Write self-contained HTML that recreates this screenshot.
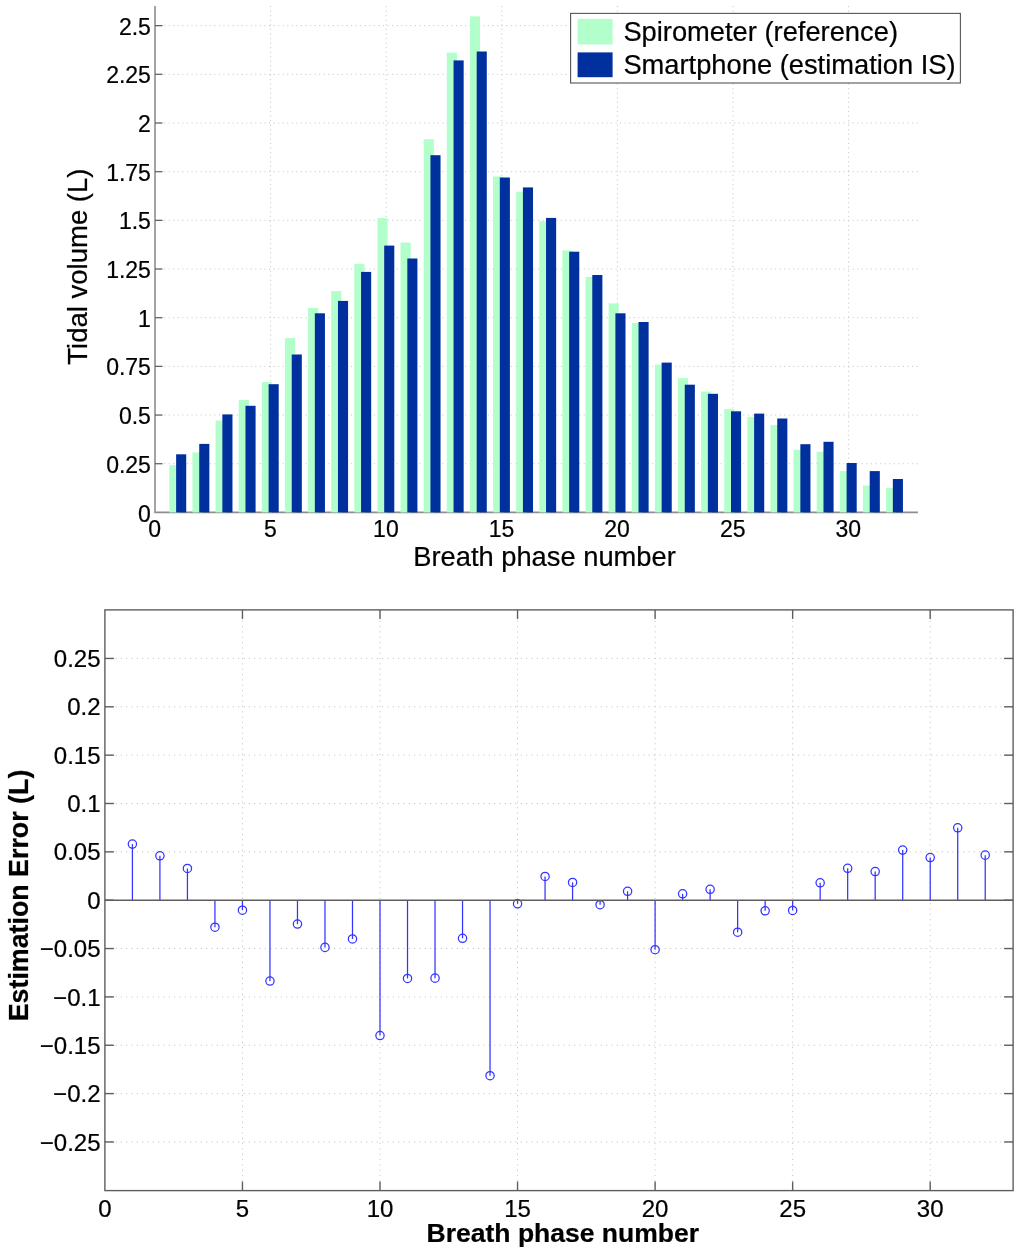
<!DOCTYPE html>
<html lang="en">
<head>
<meta charset="utf-8">
<title>Tidal volume estimation</title>
<style>
html,body{margin:0;padding:0;background:#fff;}
body{width:1024px;height:1255px;overflow:hidden;}
svg text{white-space:pre;stroke:#000;stroke-width:0.22px;}
</style>
</head>
<body>
<svg width="1024" height="1255" viewBox="0 0 1024 1255" style="display:block">
<rect width="1024" height="1255" fill="#fff"/>
<g id="top">
<g stroke="#c8c8c8" stroke-width="1" stroke-dasharray="1.1 3.46" fill="none">
<line x1="155" y1="463.72" x2="917.96" y2="463.72"/>
<line x1="155" y1="415.05" x2="917.96" y2="415.05"/>
<line x1="155" y1="366.38" x2="917.96" y2="366.38"/>
<line x1="155" y1="317.7" x2="917.96" y2="317.7"/>
<line x1="155" y1="269.02" x2="917.96" y2="269.02"/>
<line x1="155" y1="220.35" x2="917.96" y2="220.35"/>
<line x1="155" y1="171.68" x2="917.96" y2="171.68"/>
<line x1="155" y1="123" x2="917.96" y2="123"/>
<line x1="155" y1="74.32" x2="917.96" y2="74.32"/>
<line x1="155" y1="25.65" x2="917.96" y2="25.65"/>
<line x1="270.6" y1="6.1" x2="270.6" y2="512.4"/>
<line x1="386.2" y1="6.1" x2="386.2" y2="512.4"/>
<line x1="501.8" y1="6.1" x2="501.8" y2="512.4"/>
<line x1="617.4" y1="6.1" x2="617.4" y2="512.4"/>
<line x1="733" y1="6.1" x2="733" y2="512.4"/>
<line x1="848.6" y1="6.1" x2="848.6" y2="512.4"/>
</g>
<g stroke="#8e8e8e" stroke-width="1.6" fill="none">
<path d="M155 6.1 V512.4 H917.96"/>
</g>
<g stroke="#606060" stroke-width="1.25" fill="none">
<line x1="155" y1="463.72" x2="162.5" y2="463.72"/>
<line x1="155" y1="415.05" x2="162.5" y2="415.05"/>
<line x1="155" y1="366.38" x2="162.5" y2="366.38"/>
<line x1="155" y1="317.7" x2="162.5" y2="317.7"/>
<line x1="155" y1="269.02" x2="162.5" y2="269.02"/>
<line x1="155" y1="220.35" x2="162.5" y2="220.35"/>
<line x1="155" y1="171.68" x2="162.5" y2="171.68"/>
<line x1="155" y1="123" x2="162.5" y2="123"/>
<line x1="155" y1="74.32" x2="162.5" y2="74.32"/>
<line x1="155" y1="25.65" x2="162.5" y2="25.65"/>
</g>
<g fill="#b3ffcc">
<rect x="169.32" y="465.2" width="10.2" height="47.2"/>
<rect x="192.44" y="452.5" width="10.2" height="59.9"/>
<rect x="215.56" y="420.5" width="10.2" height="91.9"/>
<rect x="238.68" y="399.9" width="10.2" height="112.5"/>
<rect x="261.8" y="382.1" width="10.2" height="130.3"/>
<rect x="284.92" y="338" width="10.2" height="174.4"/>
<rect x="308.04" y="308" width="10.2" height="204.4"/>
<rect x="331.16" y="291" width="10.2" height="221.4"/>
<rect x="354.28" y="263.8" width="10.2" height="248.6"/>
<rect x="377.4" y="218.1" width="10.2" height="294.3"/>
<rect x="400.52" y="242.5" width="10.2" height="269.9"/>
<rect x="423.64" y="139.2" width="10.2" height="373.2"/>
<rect x="446.76" y="52.6" width="10.2" height="459.8"/>
<rect x="469.88" y="16.3" width="10.2" height="496.1"/>
<rect x="493" y="176.5" width="10.2" height="335.9"/>
<rect x="516.12" y="191.7" width="10.2" height="320.7"/>
<rect x="539.24" y="221.2" width="10.2" height="291.2"/>
<rect x="562.36" y="250.4" width="10.2" height="262"/>
<rect x="585.48" y="277" width="10.2" height="235.4"/>
<rect x="608.6" y="303.4" width="10.2" height="209"/>
<rect x="631.72" y="323" width="10.2" height="189.4"/>
<rect x="654.84" y="364.6" width="10.2" height="147.8"/>
<rect x="677.96" y="378.1" width="10.2" height="134.3"/>
<rect x="701.08" y="391.5" width="10.2" height="120.9"/>
<rect x="724.2" y="409.1" width="10.2" height="103.3"/>
<rect x="747.32" y="416.9" width="10.2" height="95.5"/>
<rect x="770.44" y="425" width="10.2" height="87.4"/>
<rect x="793.56" y="449.8" width="10.2" height="62.6"/>
<rect x="816.68" y="451.8" width="10.2" height="60.6"/>
<rect x="839.8" y="471.1" width="10.2" height="41.3"/>
<rect x="862.92" y="485.5" width="10.2" height="26.9"/>
<rect x="886.04" y="488" width="10.2" height="24.4"/>
</g>
<g fill="#00309e">
<rect x="176.12" y="454.3" width="10.1" height="58.1"/>
<rect x="199.24" y="443.9" width="10.1" height="68.5"/>
<rect x="222.36" y="414.4" width="10.1" height="98"/>
<rect x="245.48" y="405.8" width="10.1" height="106.6"/>
<rect x="268.6" y="384.2" width="10.1" height="128.2"/>
<rect x="291.72" y="354.5" width="10.1" height="157.9"/>
<rect x="314.84" y="313.3" width="10.1" height="199.1"/>
<rect x="337.96" y="300.9" width="10.1" height="211.5"/>
<rect x="361.08" y="271.9" width="10.1" height="240.5"/>
<rect x="384.2" y="245.6" width="10.1" height="266.8"/>
<rect x="407.32" y="258.5" width="10.1" height="253.9"/>
<rect x="430.44" y="155.2" width="10.1" height="357.2"/>
<rect x="453.56" y="60.4" width="10.1" height="452"/>
<rect x="476.68" y="51.5" width="10.1" height="460.9"/>
<rect x="499.8" y="177.5" width="10.1" height="334.9"/>
<rect x="522.92" y="187.4" width="10.1" height="325"/>
<rect x="546.04" y="217.9" width="10.1" height="294.5"/>
<rect x="569.16" y="251.7" width="10.1" height="260.7"/>
<rect x="592.28" y="275" width="10.1" height="237.4"/>
<rect x="615.4" y="313.3" width="10.1" height="199.1"/>
<rect x="638.52" y="322" width="10.1" height="190.4"/>
<rect x="661.64" y="362.6" width="10.1" height="149.8"/>
<rect x="684.76" y="384.7" width="10.1" height="127.7"/>
<rect x="707.88" y="393.8" width="10.1" height="118.6"/>
<rect x="731" y="411.3" width="10.1" height="101.1"/>
<rect x="754.12" y="413.6" width="10.1" height="98.8"/>
<rect x="777.24" y="418.5" width="10.1" height="93.9"/>
<rect x="800.36" y="444.2" width="10.1" height="68.2"/>
<rect x="823.48" y="441.8" width="10.1" height="70.6"/>
<rect x="846.6" y="463" width="10.1" height="49.4"/>
<rect x="869.72" y="471.1" width="10.1" height="41.3"/>
<rect x="892.84" y="479" width="10.1" height="33.4"/>
</g>
<g font-family='"Liberation Sans", Arial, Helvetica, sans-serif' font-size="23" fill="#000">
<text x="150.9" y="521.5" text-anchor="end">0</text>
<text x="150.9" y="472.82" text-anchor="end">0.25</text>
<text x="150.9" y="424.15" text-anchor="end">0.5</text>
<text x="150.9" y="375.48" text-anchor="end">0.75</text>
<text x="150.9" y="326.8" text-anchor="end">1</text>
<text x="150.9" y="278.12" text-anchor="end">1.25</text>
<text x="150.9" y="229.45" text-anchor="end">1.5</text>
<text x="150.9" y="180.78" text-anchor="end">1.75</text>
<text x="150.9" y="132.1" text-anchor="end">2</text>
<text x="150.9" y="83.42" text-anchor="end">2.25</text>
<text x="150.9" y="34.75" text-anchor="end">2.5</text>
<text x="154.7" y="537" text-anchor="middle">0</text>
<text x="270.3" y="537" text-anchor="middle">5</text>
<text x="385.9" y="537" text-anchor="middle">10</text>
<text x="501.5" y="537" text-anchor="middle">15</text>
<text x="617.1" y="537" text-anchor="middle">20</text>
<text x="732.7" y="537" text-anchor="middle">25</text>
<text x="848.3" y="537" text-anchor="middle">30</text>
</g>
<text x="544.5" y="565.6" text-anchor="middle" font-family='"Liberation Sans", Arial, Helvetica, sans-serif' font-size="27.3" fill="#000">Breath phase number</text>
<text transform="translate(87 266.6) rotate(-90)" text-anchor="middle" font-family='"Liberation Sans", Arial, Helvetica, sans-serif' font-size="27.5" fill="#000">Tidal volume (L)</text>
<rect x="570.6" y="13.4" width="389.8" height="69.6" fill="#fff" stroke="#555" stroke-width="1.1"/>
<rect x="577.6" y="18.9" width="35" height="25.6" fill="#b3ffcc"/>
<rect x="577.6" y="52.4" width="35" height="24.8" fill="#00309e"/>
<text x="623.4" y="41.1" font-family='"Liberation Sans", Arial, Helvetica, sans-serif' font-size="27.3" fill="#000">Spirometer (reference)</text>
<text x="623.4" y="73.9" font-family='"Liberation Sans", Arial, Helvetica, sans-serif' font-size="27.3" fill="#000">Smartphone (estimation IS)</text>
</g>
<g id="bottom">
<g stroke="#c8c8c8" stroke-width="1" stroke-dasharray="1.2 4.13" fill="none">
<line x1="104.9" y1="1141.95" x2="1013.1" y2="1141.95"/>
<line x1="104.9" y1="1093.6" x2="1013.1" y2="1093.6"/>
<line x1="104.9" y1="1045.25" x2="1013.1" y2="1045.25"/>
<line x1="104.9" y1="996.9" x2="1013.1" y2="996.9"/>
<line x1="104.9" y1="948.55" x2="1013.1" y2="948.55"/>
<line x1="104.9" y1="851.85" x2="1013.1" y2="851.85"/>
<line x1="104.9" y1="803.5" x2="1013.1" y2="803.5"/>
<line x1="104.9" y1="755.15" x2="1013.1" y2="755.15"/>
<line x1="104.9" y1="706.8" x2="1013.1" y2="706.8"/>
<line x1="104.9" y1="658.45" x2="1013.1" y2="658.45"/>
<line x1="242.45" y1="609.9" x2="242.45" y2="1190.6"/>
<line x1="380" y1="609.9" x2="380" y2="1190.6"/>
<line x1="517.55" y1="609.9" x2="517.55" y2="1190.6"/>
<line x1="655.1" y1="609.9" x2="655.1" y2="1190.6"/>
<line x1="792.65" y1="609.9" x2="792.65" y2="1190.6"/>
<line x1="930.2" y1="609.9" x2="930.2" y2="1190.6"/>
</g>
<g stroke="#3434ff" stroke-width="1.25" fill="none">
<line x1="132.41" y1="900.2" x2="132.41" y2="844.11"/>
<circle cx="132.41" cy="844.11" r="4.15"/>
<line x1="159.92" y1="900.2" x2="159.92" y2="855.81"/>
<circle cx="159.92" cy="855.81" r="4.15"/>
<line x1="187.43" y1="900.2" x2="187.43" y2="868.48"/>
<circle cx="187.43" cy="868.48" r="4.15"/>
<line x1="214.94" y1="900.2" x2="214.94" y2="927.18"/>
<circle cx="214.94" cy="927.18" r="4.15"/>
<line x1="242.45" y1="900.2" x2="242.45" y2="910.16"/>
<circle cx="242.45" cy="910.16" r="4.15"/>
<line x1="269.96" y1="900.2" x2="269.96" y2="981.04"/>
<circle cx="269.96" cy="981.04" r="4.15"/>
<line x1="297.47" y1="900.2" x2="297.47" y2="924.08"/>
<circle cx="297.47" cy="924.08" r="4.15"/>
<line x1="324.98" y1="900.2" x2="324.98" y2="947.39"/>
<circle cx="324.98" cy="947.39" r="4.15"/>
<line x1="352.49" y1="900.2" x2="352.49" y2="938.98"/>
<circle cx="352.49" cy="938.98" r="4.15"/>
<line x1="380" y1="900.2" x2="380" y2="1035.58"/>
<circle cx="380" cy="1035.58" r="4.15"/>
<line x1="407.51" y1="900.2" x2="407.51" y2="978.43"/>
<circle cx="407.51" cy="978.43" r="4.15"/>
<line x1="435.02" y1="900.2" x2="435.02" y2="978.14"/>
<circle cx="435.02" cy="978.14" r="4.15"/>
<line x1="462.53" y1="900.2" x2="462.53" y2="938.3"/>
<circle cx="462.53" cy="938.3" r="4.15"/>
<line x1="490.04" y1="900.2" x2="490.04" y2="1075.71"/>
<circle cx="490.04" cy="1075.71" r="4.15"/>
<line x1="517.55" y1="900.2" x2="517.55" y2="903.78"/>
<circle cx="517.55" cy="903.78" r="4.15"/>
<line x1="545.06" y1="900.2" x2="545.06" y2="876.41"/>
<circle cx="545.06" cy="876.41" r="4.15"/>
<line x1="572.57" y1="900.2" x2="572.57" y2="882.41"/>
<circle cx="572.57" cy="882.41" r="4.15"/>
<line x1="600.08" y1="900.2" x2="600.08" y2="904.74"/>
<circle cx="600.08" cy="904.74" r="4.15"/>
<line x1="627.59" y1="900.2" x2="627.59" y2="891.3"/>
<circle cx="627.59" cy="891.3" r="4.15"/>
<line x1="655.1" y1="900.2" x2="655.1" y2="949.71"/>
<circle cx="655.1" cy="949.71" r="4.15"/>
<line x1="682.61" y1="900.2" x2="682.61" y2="893.82"/>
<circle cx="682.61" cy="893.82" r="4.15"/>
<line x1="710.12" y1="900.2" x2="710.12" y2="889.27"/>
<circle cx="710.12" cy="889.27" r="4.15"/>
<line x1="737.63" y1="900.2" x2="737.63" y2="932.21"/>
<circle cx="737.63" cy="932.21" r="4.15"/>
<line x1="765.14" y1="900.2" x2="765.14" y2="910.84"/>
<circle cx="765.14" cy="910.84" r="4.15"/>
<line x1="792.65" y1="900.2" x2="792.65" y2="910.45"/>
<circle cx="792.65" cy="910.45" r="4.15"/>
<line x1="820.16" y1="900.2" x2="820.16" y2="882.79"/>
<circle cx="820.16" cy="882.79" r="4.15"/>
<line x1="847.67" y1="900.2" x2="847.67" y2="868.29"/>
<circle cx="847.67" cy="868.29" r="4.15"/>
<line x1="875.18" y1="900.2" x2="875.18" y2="871.58"/>
<circle cx="875.18" cy="871.58" r="4.15"/>
<line x1="902.69" y1="900.2" x2="902.69" y2="850.11"/>
<circle cx="902.69" cy="850.11" r="4.15"/>
<line x1="930.2" y1="900.2" x2="930.2" y2="857.56"/>
<circle cx="930.2" cy="857.56" r="4.15"/>
<line x1="957.71" y1="900.2" x2="957.71" y2="827.77"/>
<circle cx="957.71" cy="827.77" r="4.15"/>
<line x1="985.22" y1="900.2" x2="985.22" y2="855.14"/>
<circle cx="985.22" cy="855.14" r="4.15"/>
</g>
<g stroke="#5e5e5e" stroke-width="1.4" fill="none">
<rect x="104.9" y="609.9" width="908.2" height="580.7"/>
<line x1="104.9" y1="900.2" x2="1013.1" y2="900.2"/>
<line x1="104.9" y1="1141.95" x2="113.9" y2="1141.95"/>
<line x1="1013.1" y1="1141.95" x2="1004.1" y2="1141.95"/>
<line x1="104.9" y1="1093.6" x2="113.9" y2="1093.6"/>
<line x1="1013.1" y1="1093.6" x2="1004.1" y2="1093.6"/>
<line x1="104.9" y1="1045.25" x2="113.9" y2="1045.25"/>
<line x1="1013.1" y1="1045.25" x2="1004.1" y2="1045.25"/>
<line x1="104.9" y1="996.9" x2="113.9" y2="996.9"/>
<line x1="1013.1" y1="996.9" x2="1004.1" y2="996.9"/>
<line x1="104.9" y1="948.55" x2="113.9" y2="948.55"/>
<line x1="1013.1" y1="948.55" x2="1004.1" y2="948.55"/>
<line x1="104.9" y1="900.2" x2="113.9" y2="900.2"/>
<line x1="1013.1" y1="900.2" x2="1004.1" y2="900.2"/>
<line x1="104.9" y1="851.85" x2="113.9" y2="851.85"/>
<line x1="1013.1" y1="851.85" x2="1004.1" y2="851.85"/>
<line x1="104.9" y1="803.5" x2="113.9" y2="803.5"/>
<line x1="1013.1" y1="803.5" x2="1004.1" y2="803.5"/>
<line x1="104.9" y1="755.15" x2="113.9" y2="755.15"/>
<line x1="1013.1" y1="755.15" x2="1004.1" y2="755.15"/>
<line x1="104.9" y1="706.8" x2="113.9" y2="706.8"/>
<line x1="1013.1" y1="706.8" x2="1004.1" y2="706.8"/>
<line x1="104.9" y1="658.45" x2="113.9" y2="658.45"/>
<line x1="1013.1" y1="658.45" x2="1004.1" y2="658.45"/>
<line x1="242.45" y1="609.9" x2="242.45" y2="618.9"/>
<line x1="242.45" y1="1190.6" x2="242.45" y2="1181.6"/>
<line x1="380" y1="609.9" x2="380" y2="618.9"/>
<line x1="380" y1="1190.6" x2="380" y2="1181.6"/>
<line x1="517.55" y1="609.9" x2="517.55" y2="618.9"/>
<line x1="517.55" y1="1190.6" x2="517.55" y2="1181.6"/>
<line x1="655.1" y1="609.9" x2="655.1" y2="618.9"/>
<line x1="655.1" y1="1190.6" x2="655.1" y2="1181.6"/>
<line x1="792.65" y1="609.9" x2="792.65" y2="618.9"/>
<line x1="792.65" y1="1190.6" x2="792.65" y2="1181.6"/>
<line x1="930.2" y1="609.9" x2="930.2" y2="618.9"/>
<line x1="930.2" y1="1190.6" x2="930.2" y2="1181.6"/>
</g>
<g font-family='"Liberation Sans", Arial, Helvetica, sans-serif' font-size="24" fill="#000">
<text x="100.5" y="1150.55" text-anchor="end">−0.25</text>
<text x="100.5" y="1102.2" text-anchor="end">−0.2</text>
<text x="100.5" y="1053.85" text-anchor="end">−0.15</text>
<text x="100.5" y="1005.5" text-anchor="end">−0.1</text>
<text x="100.5" y="957.15" text-anchor="end">−0.05</text>
<text x="100.5" y="908.8" text-anchor="end">0</text>
<text x="100.5" y="860.45" text-anchor="end">0.05</text>
<text x="100.5" y="812.1" text-anchor="end">0.1</text>
<text x="100.5" y="763.75" text-anchor="end">0.15</text>
<text x="100.5" y="715.4" text-anchor="end">0.2</text>
<text x="100.5" y="667.05" text-anchor="end">0.25</text>
<text x="104.9" y="1216.5" text-anchor="middle">0</text>
<text x="242.45" y="1216.5" text-anchor="middle">5</text>
<text x="380" y="1216.5" text-anchor="middle">10</text>
<text x="517.55" y="1216.5" text-anchor="middle">15</text>
<text x="655.1" y="1216.5" text-anchor="middle">20</text>
<text x="792.65" y="1216.5" text-anchor="middle">25</text>
<text x="930.2" y="1216.5" text-anchor="middle">30</text>
</g>
<text x="562.8" y="1242" text-anchor="middle" font-family='"Liberation Sans", Arial, Helvetica, sans-serif' font-size="26.5" font-weight="bold" fill="#000">Breath phase number</text>
<text transform="translate(27.8 895.5) rotate(-90)" text-anchor="middle" font-family='"Liberation Sans", Arial, Helvetica, sans-serif' font-size="26.8" font-weight="bold" fill="#000">Estimation Error (L)</text>
</g>
</svg>
</body>
</html>
